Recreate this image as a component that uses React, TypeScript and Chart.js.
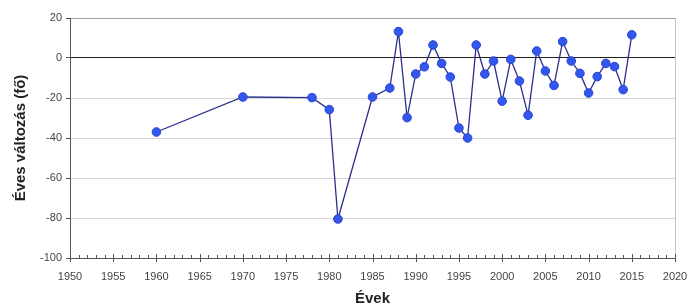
import React, { useEffect, useRef } from "react";
import { Chart, registerables } from "chart.js";

Chart.register(...registerables);

const years = [1960, 1970, 1978, 1980, 1981, 1985, 1987, 1988, 1989, 1990, 1991, 1992, 1993, 1994, 1995, 1996, 1997, 1998, 1999, 2000, 2001, 2002, 2003, 2004, 2005, 2006, 2007, 2008, 2009, 2010, 2011, 2012, 2013, 2014, 2015];
const changes = [-37, -19.5, -19.8, -25.8, -80.5, -19.5, -15, 13.2, -29.8, -8, -4.4, 6.5, -2.7, -9.5, -35, -40, 6.5, -8, -1.5, -21.6, -0.7, -11.5, -28.6, 3.5, -6.5, -13.7, 8.2, -1.5, -7.7, -17.5, -9.3, -2.7, -4.3, -15.8, 11.6];
const xTitle = "Évek";
const yTitle = "Éves változás (fő)";
const xMin = 1950;
const xMax = 2020;
const yMin = -100;
const yMax = 20;

const FONT = "'Liberation Sans', Arial, sans-serif";

const extraPlugin = {
  id: "extraTicks",
  afterDraw(chart: any) {
    const { ctx, chartArea, scales } = chart;
    const x = scales.x;
    ctx.save();
    // right border
    ctx.strokeStyle = "#c4c4c4";
    ctx.lineWidth = 1;
    ctx.beginPath();
    ctx.moveTo(Math.round(chartArea.right) + 0.5, chartArea.top);
    ctx.lineTo(Math.round(chartArea.right) + 0.5, chartArea.bottom);
    ctx.stroke();
    // x minor/major ticks
    ctx.strokeStyle = "#555";
    const b = Math.round(chartArea.bottom);
    for (let v = xMin; v <= xMax; v++) {
      const px = Math.round(x.getPixelForValue(v)) + 0.5;
      ctx.beginPath();
      if (v % 5 === 0) {
        ctx.moveTo(px, b - 4);
        ctx.lineTo(px, b + 4);
      } else {
        ctx.moveTo(px, b - 3);
        ctx.lineTo(px, b);
      }
      ctx.stroke();
    }
    ctx.restore();
  },
};

export default function App() {
  const ref = useRef<HTMLCanvasElement | null>(null);
  useEffect(() => {
    if (!ref.current) return;
    const chart = new Chart(ref.current, {
      type: "line",
      data: {
        datasets: [
          {
            data: years.map((y, i) => ({ x: y, y: changes[i] })),
            borderColor: "#2b2f8c",
            borderWidth: 1.3,
            pointBackgroundColor: "#3357ee",
            pointBorderColor: "#2a44d0",
            pointBorderWidth: 1,
            pointRadius: 4.3,
            tension: 0,
          },
        ],
      },
      options: {
        responsive: false,
        animation: false,
        plugins: { legend: { display: false }, tooltip: { enabled: false } },
        layout: { padding: { top: 18, right: 14, left: 0, bottom: 0 } },
        scales: {
          x: {
            type: "linear",
            min: xMin,
            max: xMax,
            afterFit: (s: any) => {
              s.height = 48;
              s.paddingRight = 0;
              s.paddingLeft = 0;
            },
            ticks: {
              stepSize: 5,
              padding: 12,
              color: "#444",
              font: { family: FONT, size: 11 },
              callback: (v: any) => String(v),
            },
            grid: { drawOnChartArea: false, drawTicks: false },
            border: { display: true, color: "#555" },
            title: {
              display: true,
              text: xTitle,
              color: "#222",
              font: { family: FONT, size: 15, weight: "bold", lineHeight: 1 },
              padding: { top: 0, bottom: 0 },
            },
          },
          y: {
            min: yMin,
            max: yMax,
            afterFit: (s: any) => {
              s.width = 70;
              s.paddingTop = 0;
              s.paddingBottom = 0;
            },
            ticks: {
              stepSize: 20,
              padding: 4,
              color: "#444",
              font: { family: FONT, size: 11 },
            },
            grid: {
              color: (c: any) => (c.tick && c.tick.value === 0 ? "#222" : c.tick && c.tick.value === yMax ? "#a0a0a0" : "#d6d6d6"),
              tickColor: "#555",
              tickLength: 4,
            },
            border: { display: true, color: "#555" },
            title: {
              display: true,
              text: yTitle,
              color: "#222",
              font: { family: FONT, size: 15, weight: "bold", lineHeight: 1.2 },
              padding: { top: 12, bottom: 0 },
            },
          },
        },
      },
      plugins: [extraPlugin],
    } as any);
    return () => chart.destroy();
  }, []);
  return (
    <div style={{ position: "fixed", left: 0, top: 0, width: 689, height: 306, background: "#fff" }}>
      <canvas ref={ref} width={689} height={306} />
    </div>
  );
}
